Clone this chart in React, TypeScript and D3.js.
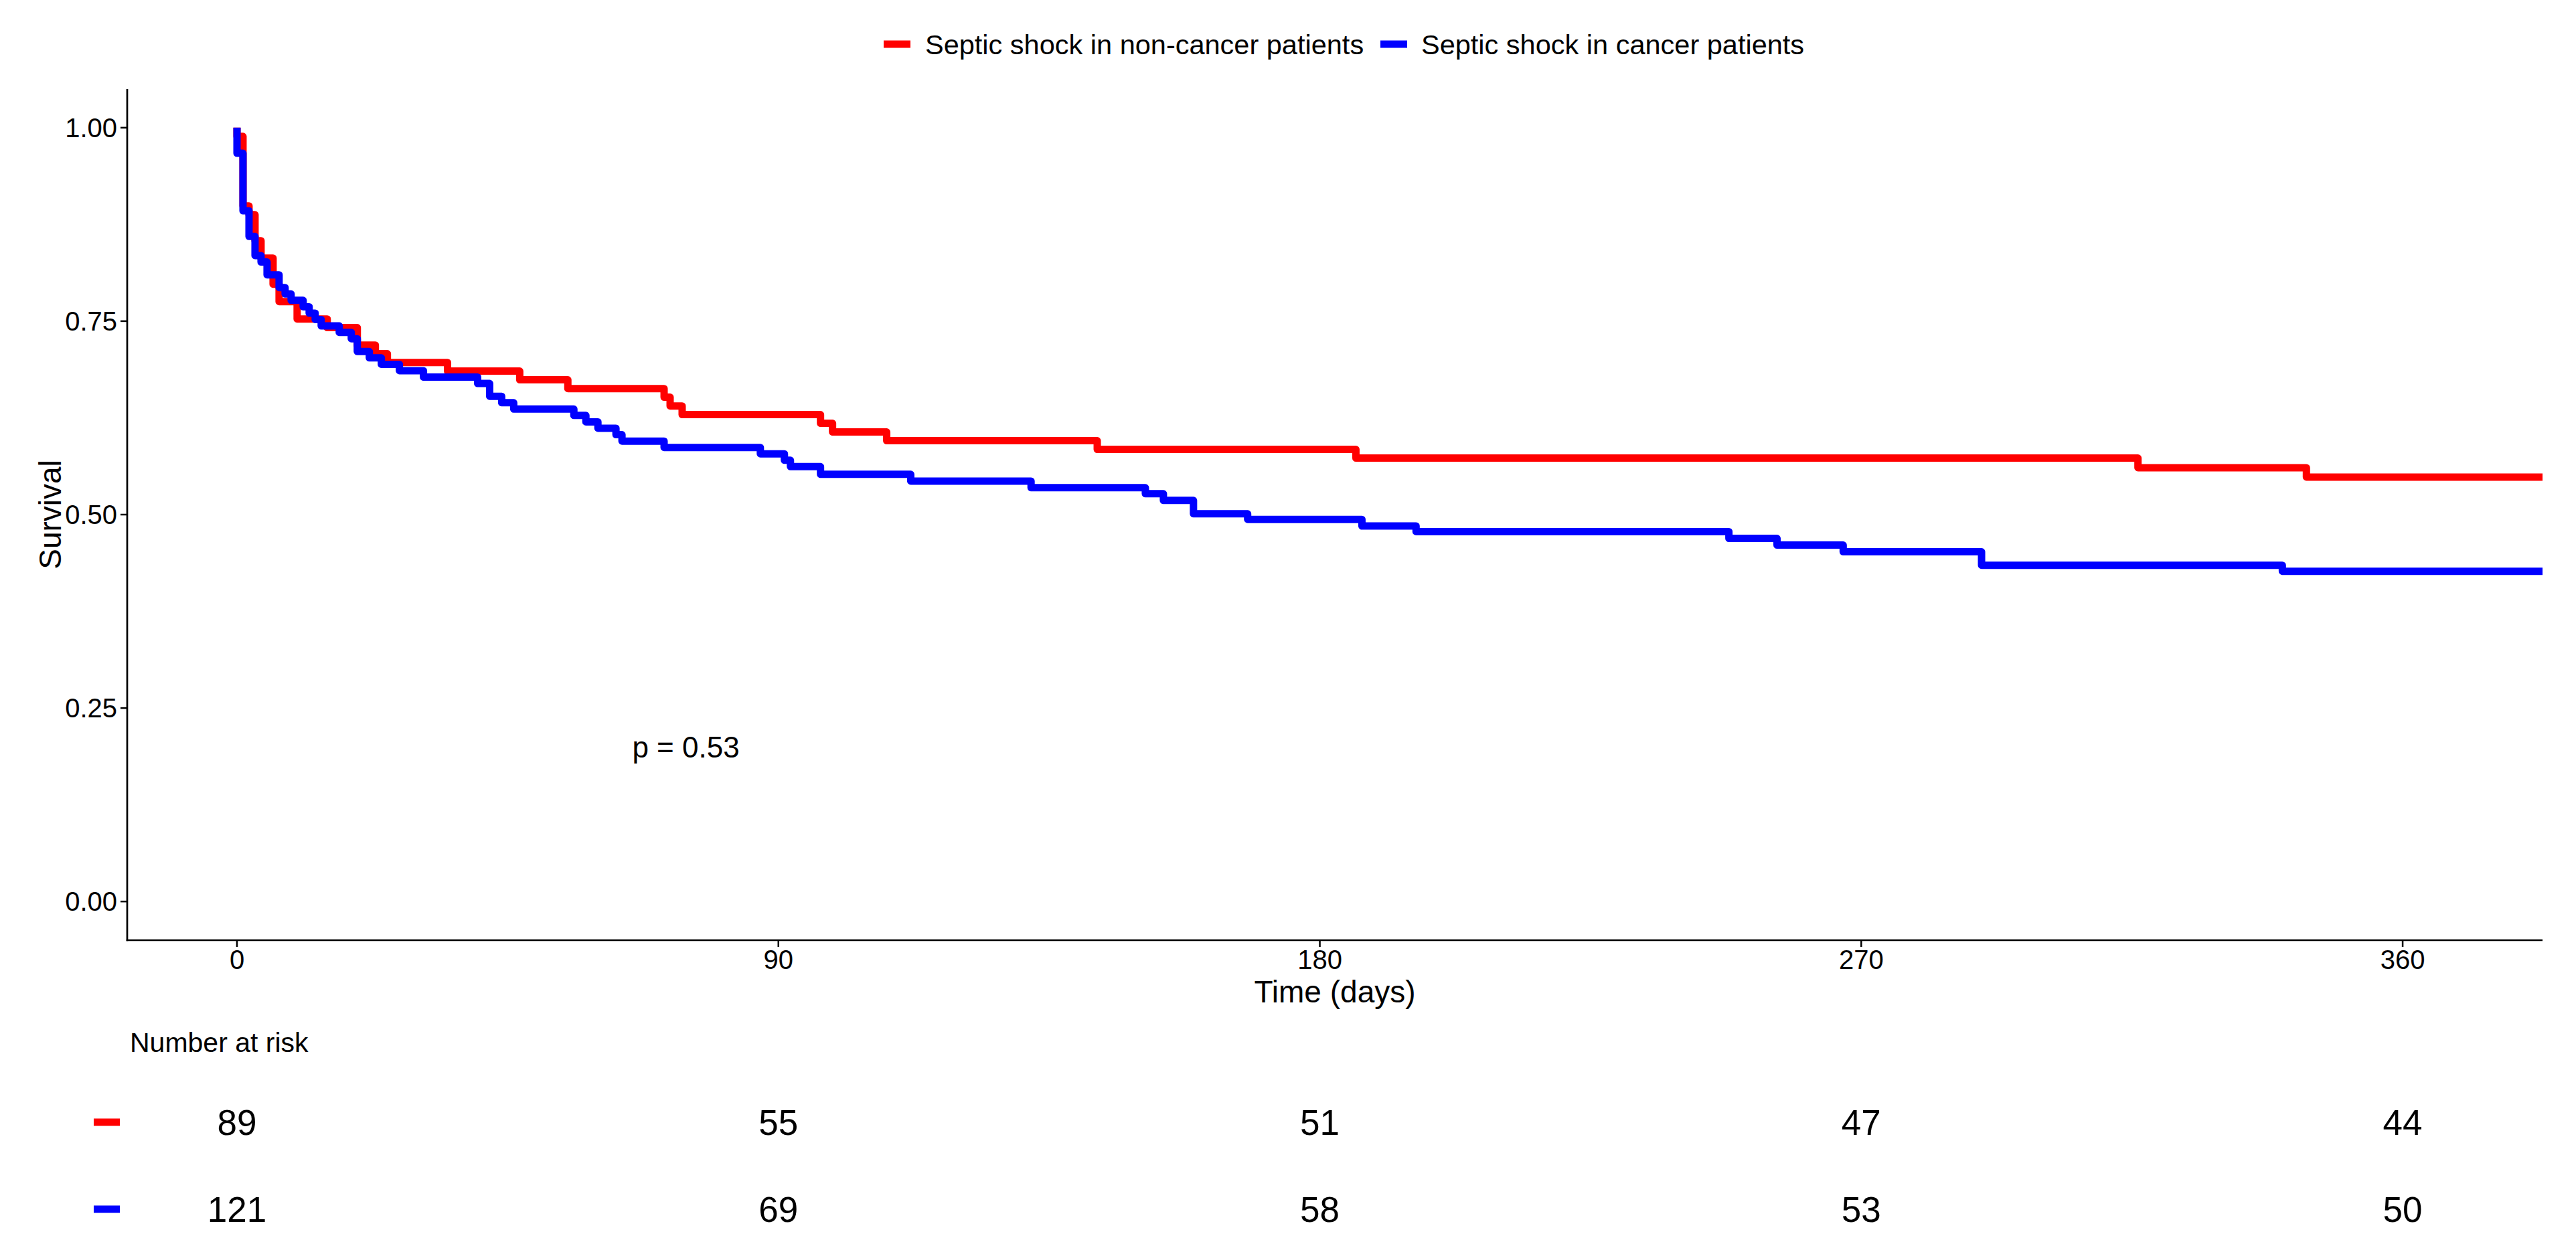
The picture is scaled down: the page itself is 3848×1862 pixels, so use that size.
import React, { useRef, useEffect } from 'react';
import * as d3 from 'd3';

// Kaplan-Meier steps (time in days, survival)
const nonCancerTimes = [0, 1, 2, 3, 4, 6, 7, 10, 15, 20, 23, 25, 35, 47, 55, 71, 72, 74, 97, 99, 108, 143, 186, 316, 344];
const nonCancerSurv = [0.9888, 0.8989, 0.8876, 0.8539, 0.8315, 0.7978, 0.7753, 0.7528, 0.7416, 0.7191, 0.7079, 0.6966, 0.6854, 0.6742, 0.6629, 0.6517, 0.6404, 0.6292, 0.618, 0.6067, 0.5955, 0.5843, 0.573, 0.5606, 0.5485];

const cancerTimes = [0, 1, 2, 3, 4, 5, 7, 8, 9, 11, 12, 13, 14, 17, 19, 20, 22, 24, 27, 31, 40, 42, 44, 46, 56, 58, 60, 63, 64, 71, 87, 91, 92, 97, 112, 132, 151, 154, 159, 168, 187, 196, 248, 256, 267, 290, 340];
const cancerSurv = [0.9669, 0.8926, 0.8595, 0.8347, 0.8264, 0.8099, 0.7934, 0.7851, 0.7769, 0.7686, 0.7603, 0.7521, 0.7438, 0.7355, 0.7273, 0.7107, 0.7025, 0.6942, 0.686, 0.6777, 0.6694, 0.6529, 0.6446, 0.6364, 0.6281, 0.6198, 0.6116, 0.6033, 0.595, 0.5868, 0.5785, 0.5702, 0.562, 0.552, 0.5433, 0.5347, 0.527, 0.5183, 0.501, 0.4938, 0.4853, 0.478, 0.4692, 0.4606, 0.4519, 0.4346, 0.4268];

const followUpEnd = 383.25;

const seriesNames = ['Septic shock in non-cancer patients', 'Septic shock in cancer patients'];
const seriesColors = ['#FF0000', '#0000FF'];

const xTicks = [0, 90, 180, 270, 360];
const yTicks = [0, 0.25, 0.5, 0.75, 1];

const riskTimes = [0, 90, 180, 270, 360];
const riskNonCancer = [89, 55, 51, 47, 44];
const riskCancer = [121, 69, 58, 53, 50];

const pValueLabel = 'p = 0.53';
const pValueAt = [65.7, 0.186];

const W = 3848;
const H = 1862;
const FONT = '"Liberation Sans", Arial, Helvetica, sans-serif';

export default function App() {
  const svgRef = useRef<SVGSVGElement>(null);

  useEffect(() => {
    if (!svgRef.current) return;
    const svg = d3.select(svgRef.current);
    svg.selectAll('*').remove();

    const panel = { left: 190, right: 3798, top: 133, bottom: 1405 };

    const x = d3.scaleLinear().domain([-18.25, 383.25]).range([panel.left, panel.right]);
    const y = d3.scaleLinear().domain([-0.05, 1.05]).range([panel.bottom, panel.top]);

    svg.append('defs').append('clipPath').attr('id', 'panel-clip')
      .append('rect')
      .attr('x', panel.left).attr('y', panel.top - 10)
      .attr('width', panel.right - panel.left).attr('height', panel.bottom - panel.top + 10);

    // Survival curves
    const line = d3.line<[number, number]>()
      .x(d => x(d[0]))
      .y(d => y(d[1]))
      .curve(d3.curveStepAfter);

    const curves = [
      { times: nonCancerTimes, surv: nonCancerSurv, color: seriesColors[0] },
      { times: cancerTimes, surv: cancerSurv, color: seriesColors[1] }
    ];

    curves.forEach(c => {
      const pts: [number, number][] = [[0, 1]];
      c.times.forEach((t, i) => pts.push([t, c.surv[i]]));
      pts.push([followUpEnd, c.surv[c.surv.length - 1]]);
      svg.append('path')
        .attr('d', line(pts))
        .attr('fill', 'none')
        .attr('stroke', c.color)
        .attr('stroke-width', 11)
        .attr('stroke-linejoin', 'round')
        .attr('clip-path', 'url(#panel-clip)');
    });

    // Axes
    svg.append('line')
      .attr('x1', panel.left).attr('x2', panel.left)
      .attr('y1', panel.top).attr('y2', panel.bottom + 1.3)
      .attr('stroke', 'black').attr('stroke-width', 2.7);
    svg.append('line')
      .attr('x1', panel.left - 1.3).attr('x2', panel.right)
      .attr('y1', panel.bottom).attr('y2', panel.bottom)
      .attr('stroke', 'black').attr('stroke-width', 2.7);

    const yt = svg.append('g');
    yTicks.forEach(v => {
      yt.append('line')
        .attr('x1', panel.left - 10).attr('x2', panel.left)
        .attr('y1', y(v)).attr('y2', y(v))
        .attr('stroke', 'black').attr('stroke-width', 2.5);
      yt.append('text')
        .attr('x', panel.left - 15).attr('y', y(v) + 14)
        .attr('text-anchor', 'end')
        .attr('font-size', 40)
        .text(d3.format('.2f')(v));
    });

    const xt = svg.append('g');
    xTicks.forEach(v => {
      xt.append('line')
        .attr('x1', x(v)).attr('x2', x(v))
        .attr('y1', panel.bottom).attr('y2', panel.bottom + 10)
        .attr('stroke', 'black').attr('stroke-width', 2.5);
      xt.append('text')
        .attr('x', x(v)).attr('y', 1448)
        .attr('text-anchor', 'middle')
        .attr('font-size', 40)
        .text(v);
    });

    svg.append('text')
      .attr('x', (panel.left + panel.right) / 2).attr('y', 1498)
      .attr('text-anchor', 'middle')
      .attr('font-size', 46)
      .text('Time (days)');

    svg.append('text')
      .attr('transform', `translate(91,${(panel.top + panel.bottom) / 2}) rotate(-90)`)
      .attr('text-anchor', 'middle')
      .attr('font-size', 46)
      .text('Survival');

    // p-value
    svg.append('text')
      .attr('x', x(pValueAt[0])).attr('y', y(pValueAt[1]))
      .attr('font-size', 44)
      .text(pValueLabel);

    // Legend
    const legendItems = [
      { key: 1320, text: 1382 },
      { key: 2062, text: 2123 }
    ];
    legendItems.forEach((it, i) => {
      svg.append('line')
        .attr('x1', it.key).attr('x2', it.key + 40)
        .attr('y1', 66).attr('y2', 66)
        .attr('stroke', seriesColors[i]).attr('stroke-width', 11);
      svg.append('text')
        .attr('x', it.text).attr('y', 81)
        .attr('font-size', 41.5)
        .text(seriesNames[i]);
    });

    // Risk table
    svg.append('text')
      .attr('x', 194).attr('y', 1572)
      .attr('font-size', 41)
      .text('Number at risk');

    const rows = [
      { values: riskNonCancer, yc: 1677, base: 1696 },
      { values: riskCancer, yc: 1807, base: 1826 }
    ];
    rows.forEach((r, i) => {
      svg.append('line')
        .attr('x1', 140).attr('x2', 179)
        .attr('y1', r.yc).attr('y2', r.yc)
        .attr('stroke', seriesColors[i]).attr('stroke-width', 11);
      r.values.forEach((n, j) => {
        svg.append('text')
          .attr('x', x(riskTimes[j])).attr('y', r.base)
          .attr('text-anchor', 'middle')
          .attr('font-size', 53)
          .text(n);
      });
    });
  }, []);

  return (
    <svg
      ref={svgRef}
      width={W}
      height={H}
      style={{ position: 'absolute', left: 0, top: 0, display: 'block', background: 'white', fontFamily: FONT }}
    />
  );
}
